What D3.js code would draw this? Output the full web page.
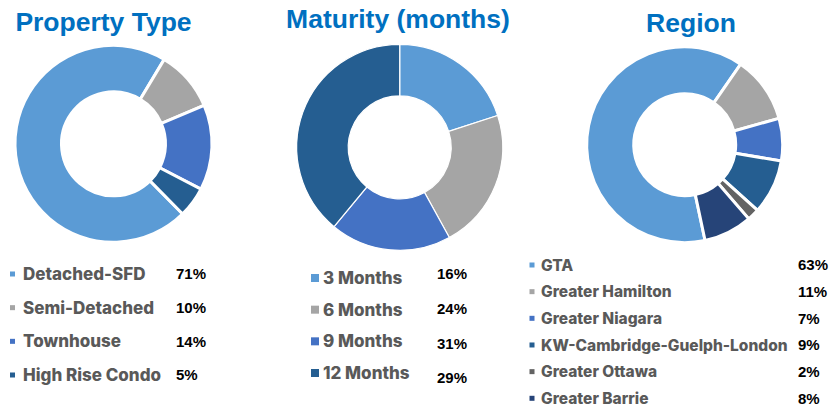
<!DOCTYPE html>
<html><head><meta charset="utf-8">
<script src="https://cdn.jsdelivr.net/npm/d3@7/dist/d3.min.js"></script>
<style>body{margin:0;background:#fff}svg{display:block}</style>
</head><body>
<svg id="c" width="831" height="410"></svg>
<script>
// ---- data ----
const propCategories = ["Detached-SFD","Semi-Detached","Townhouse","High Rise Condo"];
const propValues = [71,10,14,5];
const propLabels = ["71%","10%","14%","5%"];

const matCategories = ["3 Months","6 Months","9 Months","12 Months"];
const matValues = [20,22,19,39];        // as drawn in the donut
const matLabels = ["16%","24%","31%","29%"]; // as printed in the legend

const regCategories = ["GTA","Greater Hamilton","Greater Niagara","KW-Cambridge-Guelph-London","Greater Ottawa","Greater Barrie"];
const regValues = [63,11,7,9,2,8];
const regLabels = ["63%","11%","7%","9%","2%","8%"];

const palette = ["#5B9BD5","#A5A5A5","#4472C4","#255E91","#636363","#264478"];

const svg = d3.select("#c");
const deg = Math.PI/180;

function donut(cfg){
  const g = svg.append("g").attr("transform",`translate(${cfg.cx},${cfg.cy})`);
  const color = d3.scaleOrdinal().domain(cfg.cats).range(palette);
  const pie = d3.pie().sort(null).value(d=>d.v)
     .startAngle(cfg.start*deg).endAngle(cfg.start*deg+2*Math.PI);
  const arc = d3.arc().innerRadius(cfg.ri).outerRadius(cfg.ro);
  const data = cfg.cats.map((c,i)=>({c, v:cfg.vals[i]}));
  g.selectAll("path").data(pie(data)).join("path")
    .attr("d",arc).attr("fill",d=>color(d.data.c))
    .attr("stroke","#fff").attr("stroke-width",cfg.sw).attr("stroke-linejoin","miter");
  svg.append("text").attr("x",cfg.tx).attr("y",cfg.ty).attr("text-anchor","middle")
    .attr("font-family","Liberation Sans, Arial, sans-serif").attr("font-weight","bold")
    .attr("font-size",26.5).attr("fill","#0070C0").text(cfg.title);
  // legend
  const y = d3.scalePoint().domain(cfg.cats).range([cfg.ly0,cfg.ly1]);
  const lg = svg.append("g");
  cfg.cats.forEach((c,i)=>{
    const yy = y(c);
    lg.append("rect").attr("x",cfg.mx).attr("y",yy-cfg.ms/2).attr("width",cfg.ms).attr("height",cfg.ms)
      .attr("fill",color(c));
    lg.append("text").attr("x",cfg.lx).attr("y",yy).attr("dy","0.36em")
      .attr("font-family","Inter, sans-serif").attr("font-weight","800")
      .attr("font-size",cfg.lfs).attr("fill","#595959").text(c);
    lg.append("text").attr("x",cfg.px).attr("y",yy+(cfg.pdy?cfg.pdy[i]:0)).attr("dy","0.36em")
      .attr("font-family","Liberation Sans, Arial, sans-serif").attr("font-weight","bold")
      .attr("font-size",cfg.pfs).attr("fill","#000").text(cfg.labels[i]);
  });
}

donut({cats:propCategories, vals:propValues, labels:propLabels, start:135.4,
  cx:113.5, cy:143.8, ro:98.5, ri:52, sw:3,
  title:"Property Type", tx:103.5, ty:31,
  ly0:274, ly1:375, mx:10, ms:5, lx:23, lfs:17, px:176, pfs:15});

donut({cats:matCategories, vals:matValues, labels:matLabels, start:0,
  cx:399.7, cy:147.3, ro:103, ri:51.5, sw:1.2,
  title:"Maturity (months)", tx:398, ty:28,
  ly0:278, ly1:373, mx:311, ms:8, lx:323, lfs:17, px:437, pfs:15, pdy:[-4,-1,2,5]});

donut({cats:regCategories, vals:regValues, labels:regLabels, start:168,
  cx:684.7, cy:144.7, ro:98, ri:51, sw:3,
  title:"Region", tx:691, ty:32,
  ly0:265, ly1:398.3, mx:529.5, ms:5, lx:541, lfs:15.5, px:798, pfs:15});
</script>
</body></html>
